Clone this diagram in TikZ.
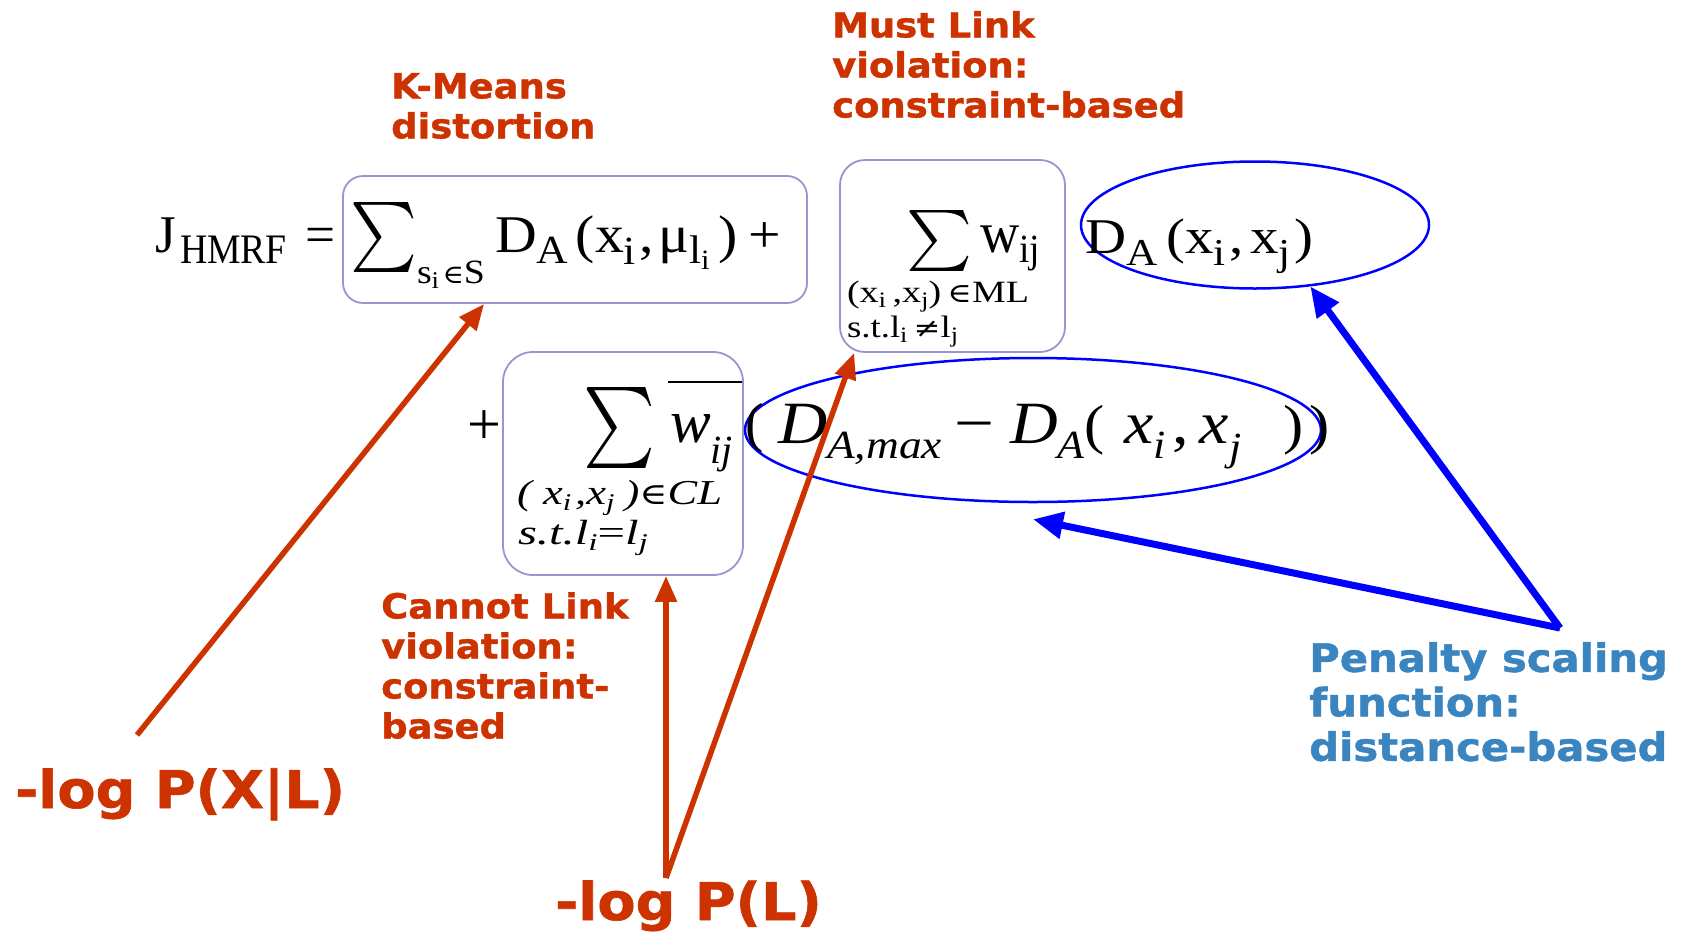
\documentclass[tikz,border=0pt]{standalone}
\usepackage{fontspec}
\usepackage{graphicx}
\usetikzlibrary{arrows.meta,shapes.geometric}
\newfontfamily\tms{Liberation Serif}
\newfontfamily\dvs{DejaVu Serif}
\newfontfamily\vb{DejaVu Sans}[FakeStretch=1.07,BoldFeatures={FakeBold=1.2}]
\newcommand{\fsz}[1]{\fontsize{#1}{#1}\selectfont}
\definecolor{rd}{RGB}{204,51,0}
\definecolor{bl}{RGB}{0,0,255}
\definecolor{pb}{RGB}{58,132,192}
\definecolor{bx}{RGB}{150,150,210}
\begin{document}
\begin{tikzpicture}[x=1pt,y=-1pt,
  eq/.style={inner sep=0pt, outer sep=0pt, anchor=base west, font=\tms},
  sig/.style={inner sep=0pt, outer sep=0pt},
  frame/.style={draw=bx, line width=1.8pt, inner sep=0pt},
  ell/.style={draw=bl, ellipse, line width=2.5pt, inner sep=0pt},
  lab/.style={inner sep=0pt, anchor=north west, align=left, text=rd, font=\vb\bfseries\fontsize{34.5}{40}\selectfont},
  pen/.style={inner sep=0pt, anchor=north west, align=left, text=pb, font=\vb\bfseries\fontsize{39}{44.5}\selectfont},
  big/.style={inner sep=0pt, anchor=base west, text=rd, font=\vb\bfseries\fontsize{52}{60}\selectfont},
  rarr/.style={draw=rd, line width=5.5pt, -{Triangle[length=26pt,width=21pt]}},
  barr/.style={draw=bl, line width=7pt, -{Triangle[length=30pt,width=26pt]}}]
\useasboundingbox (0,0) rectangle (1685,932);

% boxes and ellipses
\node[frame, rounded corners=20pt, minimum width=464pt, minimum height=127pt] (b1) at (575,239.5) {};
\node[frame, rounded corners=25pt, minimum width=225pt, minimum height=192pt] (b2) at (952.5,256) {};
\node[frame, rounded corners=30pt, minimum width=240pt, minimum height=223pt] (b3) at (623,463.5) {};
\node[ell, minimum width=348pt, minimum height=127pt] (e1) at (1255,225) {};
\node[ell, minimum width=576pt, minimum height=144pt] (e2) at (1033,430) {};

% line 1
\node[eq] (J) at (155,252) {\fsz{53}J};
\node[eq] (Jsub) at (180,263) {\resizebox{107pt}{\height}{\fsz{42}HMRF}};
\node[eq] (eqs) at (305,252) {\resizebox{30pt}{\height}{\fsz{53}=}};
\node[sig] (s1) at (383.5,237) {\resizebox*{67pt}{70pt}{$\sum$}};
\node[eq] (s1sub) at (417,283) {\resizebox{68pt}{\height}{\fsz{34}s\raisebox{-5pt}{\fsz{24}i}\hspace{3pt}{\dvs\fsz{26}∈}S}};
\node[eq] (t1) at (495,252) {\resizebox{286pt}{\height}{\fsz{53}D\raisebox{-11pt}{\fsz{40}A}\hspace{7pt}(x\raisebox{-12pt}{\fsz{40}i}\hspace{3pt},\hspace{4pt}μ\raisebox{-11pt}{\fsz{40}l\raisebox{-6pt}{\fsz{28}i}}\hspace{8pt})\hspace{10pt}+}};

% must-link box
\node[sig] (s2) at (939,240.5) {\resizebox*{66pt}{61pt}{$\sum$}};
\node[eq] (w2) at (980,252) {\resizebox{60pt}{\height}{\fsz{58}w\raisebox{-10pt}{\fsz{40}ij}}};
\node[eq] (ml1) at (847,302) {\resizebox{182pt}{\height}{\fsz{31}(x\raisebox{-5pt}{\fsz{22}i}\,,x\raisebox{-5pt}{\fsz{22}j})\,{\dvs\fsz{27}∈}ML}};
\node[eq] (ml2) at (847,337) {\resizebox{111pt}{\height}{\fsz{31}s.t.l\raisebox{-5pt}{\fsz{22}i}\,{\dvs\fsz{27}≠}l\raisebox{-5pt}{\fsz{22}j}}};
\node[eq] (t2) at (1085,253) {\resizebox{228pt}{\height}{\fsz{50}D\raisebox{-12pt}{\fsz{38}A}\hspace{8pt}(x\raisebox{-12pt}{\fsz{38}i}\hspace{3pt},\hspace{6pt}x\raisebox{-12pt}{\fsz{38}j}\hspace{3pt})}};

% line 3
\node[eq] (plus) at (467,444) {\fsz{60}+};
\node[sig] (s3) at (619,427.5) {\resizebox*{72pt}{81pt}{$\sum$}};
\node[eq] (w3) at (670,442) {\fsz{61}\itshape w\raisebox{-21pt}{\fsz{40}ij}};
\coordinate (ob1) at (668,382);
\coordinate (ob2) at (742,382);
\draw[line width=2.5pt] (ob1) -- (ob2);
\node[eq] (lp) at (745,441) {\fsz{55}(};
\node[eq] (dmax) at (778,443) {\resizebox{164pt}{\height}{\itshape\fsz{60}D\raisebox{-15pt}{\fsz{40}A,max}}};
\node[eq] (minus) at (954,443) {\resizebox{40pt}{\height}{\fsz{60}−}};
\node[eq] (da) at (1010,443) {\resizebox{320pt}{\height}{\itshape\fsz{60}D\raisebox{-15pt}{\fsz{40}A}{\upshape\fsz{55}(}\hspace{18pt}x\raisebox{-15pt}{\fsz{40}i}\hspace{6pt}{\upshape ,}\hspace{10pt}x\raisebox{-17pt}{\fsz{40}j}\hspace{38pt}{\upshape\fsz{55})\hspace{6pt})}}};
\node[eq] (cl1) at (517,504) {\resizebox{205pt}{\height}{\itshape\fsz{35}(\hspace{9pt}x\raisebox{-6pt}{\fsz{24}i}\hspace{3pt},x\raisebox{-6pt}{\fsz{24}j}\hspace{8pt}){\upshape\dvs\fsz{30}∈}CL}};
\node[eq] (cl2) at (518,544) {\resizebox{130pt}{\height}{\itshape\fsz{35}s.t.l\raisebox{-6pt}{\fsz{24}i}{\upshape =}l\raisebox{-6pt}{\fsz{24}j}}};

% labels
\node[lab] (km) at (391,73) {K-Means\\distortion};
\node[lab] (mlv) at (832,11) {Must Link\\violation:\\constraint-based};
\node[lab] (clv) at (381,592) {Cannot Link\\violation:\\constraint-\\based};
\node[pen] (pf) at (1309,642) {Penalty scaling\\function:\\distance-based};
\node[big] (pxl) at (15,808) {-log P(X|L)};
\node[big] (pl) at (555,920) {-log P(L)};

% connectors
\coordinate (xlS) at (137,735);
\coordinate (plS) at (666,878);
\coordinate (penS) at (1560,628);
\draw[rarr] (xlS) -- ([xshift=142pt]b1.south west);
\draw[rarr] (plS) -- (b3.south -| plS);
\draw[rarr] (plS) -- ([xshift=15pt]b2.south west);
\draw[barr] (penS) -- (e1.-48);
\draw[barr] (penS) -- ([yshift=-16pt]e2.south);
\end{tikzpicture}
\end{document}
